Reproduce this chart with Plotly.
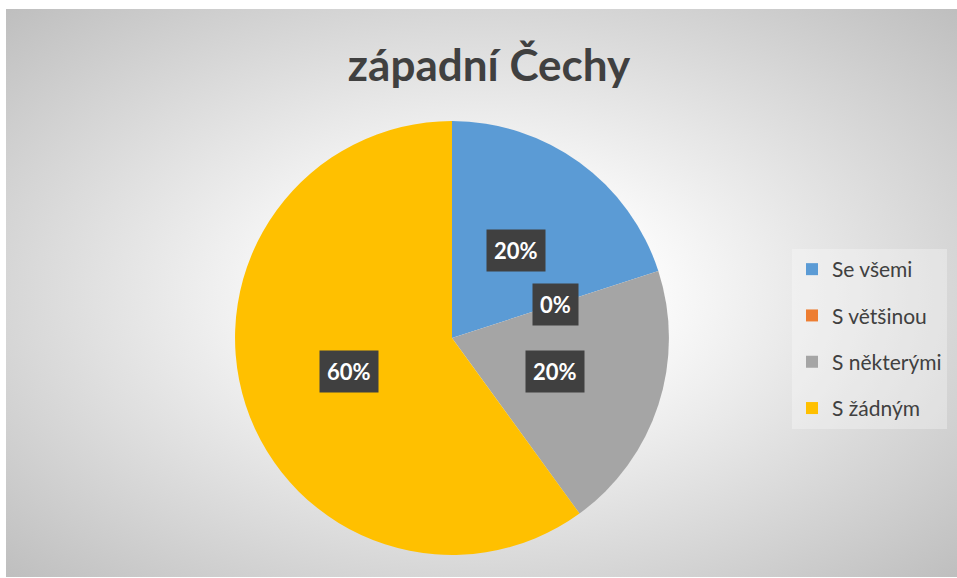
import base64, math
import plotly.graph_objects as go

categories = ["Se všemi", "S většinou", "S některými", "S žádným"]
values = [20, 0, 20, 60]
colors = ["#5B9BD5", "#ED7D31", "#A5A5A5", "#FFC000"]
title_text = "západní Čechy"

W, H = 957, 578
dom_x = [0.2456, 0.699]
dom_y = [0.0398, 0.7907]

svg = f'''<svg xmlns="http://www.w3.org/2000/svg" width="951" height="568" viewBox="0 0 951 568">
<defs><radialGradient id="g" cx="0.5" cy="0.5" r="0.72" gradientUnits="objectBoundingBox">
<stop offset="0" stop-color="#ffffff"/><stop offset="0.25" stop-color="#fbfbfb"/>
<stop offset="1" stop-color="#bdbdbd"/></radialGradient></defs>
<rect width="951" height="568" fill="url(#g)"/></svg>'''
src = "data:image/svg+xml;base64," + base64.b64encode(svg.encode()).decode()

fig = go.Figure()
fig.add_trace(go.Pie(
    labels=categories, values=values, sort=False, direction="clockwise", rotation=0,
    marker=dict(colors=colors, line=dict(width=0)), textinfo="none", hoverinfo="label+percent",
    showlegend=False, domain=dict(x=dom_x, y=dom_y),
))

for i, (c, col) in enumerate(zip(categories, colors)):
    fig.add_trace(go.Scatter(x=[None], y=[None], mode="markers", name=c,
                             legendgroup=f"g{i}",
                             marker=dict(symbol="square", size=13, color=col)))

# label positions computed from values
cx = (dom_x[0] + dom_x[1]) / 2 * W
cy = (1 - (dom_y[0] + dom_y[1]) / 2) * H
R = min((dom_x[1] - dom_x[0]) * W, (dom_y[1] - dom_y[0]) * H) / 2
total = sum(values)
cum = 0
for v in values:
    mid = (cum + v / 2) / total * 2 * math.pi
    cum += v
    px = cx + 0.5 * R * math.sin(mid)
    py = cy - 0.5 * R * math.cos(mid)
    fig.add_annotation(x=px / W, y=1 - py / H, xref="paper", yref="paper",
                       text=f"<b>{round(v / total * 100)}%</b>", showarrow=False,
                       font=dict(family="Lato, Open Sans, sans-serif", size=22, color="white"),
                       bgcolor="#404040", borderpad=7, xanchor="center", yanchor="middle")

fig.update_layout(
    width=W, height=H, margin=dict(l=0, r=0, t=0, b=0),
    paper_bgcolor="white", plot_bgcolor="rgba(0,0,0,0)",
    xaxis=dict(visible=False), yaxis=dict(visible=False),
    images=[dict(source=src, xref="paper", yref="paper", x=6 / W, y=1 - 9 / H,
                 sizex=951 / W, sizey=568 / H, sizing="stretch", layer="below",
                 xanchor="left", yanchor="top")],
    title=dict(text=f"<b>{title_text}</b>", x=489 / W, y=1 - 66 / H, xanchor="center", yanchor="middle",
               font=dict(family="Lato, Open Sans, sans-serif", size=44, color="#404040")),
    legend=dict(x=792 / W, y=1 - 339 / H, xanchor="left", yanchor="middle",
                font=dict(family="Lato, Open Sans, sans-serif", size=21, color="#404040"),
                bgcolor="rgba(255,255,255,0.3)", tracegroupgap=16, traceorder="grouped",
                itemsizing="constant", itemwidth=30),
)

fig.write_html("out.html", config={"displayModeBar": False},
               post_script="document.body.style.margin='0';")
